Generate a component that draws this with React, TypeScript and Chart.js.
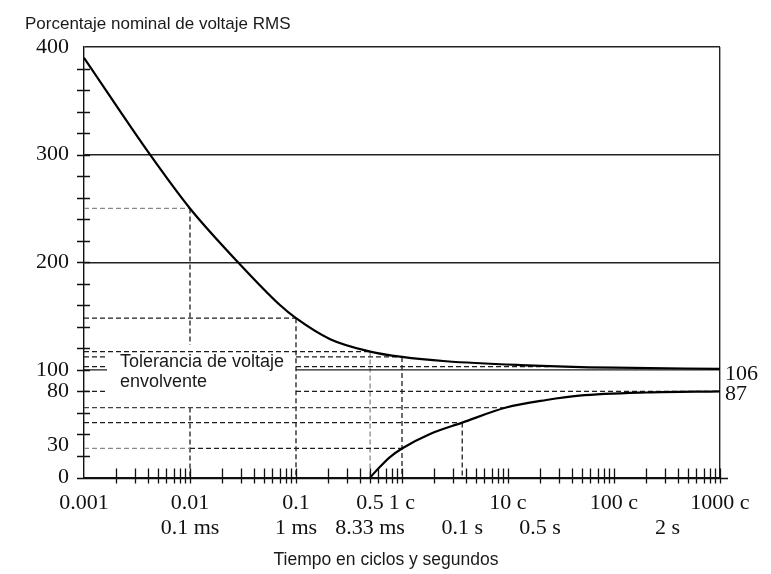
import React, { useEffect, useRef } from 'react';
import { Chart, registerables } from 'chart.js';

Chart.register(...registerables);

// Upper tolerance curve (cycles, % nominal)
const upperX = [0.001, 0.0042, 0.01, 0.0284, 0.071, 0.1, 0.21, 0.5, 1, 2.6, 13, 100, 1000];
const upperY = [390, 300, 250, 200, 160, 148, 128.5, 117, 112, 108, 104.5, 102, 101];

// Lower tolerance curve
const lowerX = [0.5, 0.62, 0.77, 1, 1.84, 3.7, 9.6, 23, 47, 203, 1000];
const lowerY = [0, 10, 19, 27, 40.5, 51, 65, 72, 76, 79, 80];

// Horizontal dashed guides: level, from, to
const hDashY = [250, 148, 117, 112, 112, 103, 103, 80, 80, 65, 51, 27, 27];
const hDashFrom = [0.001, 0.001, 0.001, 0.001, 0.1, 0.001, 0.1, 0.001, 0.1, 0.001, 0.001, 0.001, 0.01];
const hDashTo = [0.01, 0.1, 0.5, 0.00165, 1, 0.00165, 25, 0.00165, 1000, 9.6, 3.7, 0.01, 1];

// Horizontal solid guides (nominal 100 %)
const hSolidY = [100, 100];
const hSolidFrom = [0.001, 0.1];
const hSolidTo = [0.00165, 1000];

// Vertical dashed guides: position, top, bottom
const vDashX = [0.01, 0.01, 0.1, 0.5, 1, 3.7];
const vDashTop = [250, 65, 148, 117, 112, 51];
const vDashBottom = [123, 0, 0, 0, 0, 0];

// Axis labels
const yLabelValues = [0, 30, 80, 100, 200, 300, 400];
const yTickMarks = [20, 40, 60, 80, 100, 120, 140, 160, 180, 200, 220, 240, 260, 280, 300, 320, 340, 360, 380];
const xLabelValues = [0.001, 0.01, 0.1, 0.5, 1, 3.7, 10, 20, 100, 320, 1000];
const xLabelRow1 = ['0.001', '0.01', '0.1', '0.5', '1 c', '', '10 c', '', '100 c', '', '1000 c'];
const xLabelRow2 = ['', '0.1 ms', '1 ms', '8.33 ms', '', '0.1 s', '', '0.5 s', '', '2 s', ''];
const xTickMarks = [
  0.002, 0.003, 0.004, 0.005, 0.006, 0.007, 0.008, 0.009, 0.01,
  0.02, 0.03, 0.04, 0.05, 0.06, 0.07, 0.08, 0.09, 0.1,
  0.2, 0.3, 0.4, 0.5, 0.6, 0.7, 0.8, 0.9, 1,
  2, 3, 4, 5, 6, 7, 8, 9, 10,
  20, 30, 40, 50, 60, 70, 80, 90, 100,
  200, 300, 400, 500, 600, 700, 800, 900, 1000,
];

const yTitle = 'Porcentaje nominal de voltaje RMS';
const xTitle = 'Tiempo en ciclos y segundos';
const boxLines = ['Tolerancia de voltaje', 'envolvente'];
const endLabels = ['106', '87'];

const SERIF = '"Liberation Serif", "Times New Roman", serif';
const SANS = '"Liberation Sans", Arial, sans-serif';

export default function App() {
  const ref = useRef<HTMLCanvasElement | null>(null);

  useEffect(() => {
    if (!ref.current) return;
    const DARK = '#1e1e1e';
    const GRAY = '#8a8a8a';
    const grayH = new Set([0, 11]);
    const grayV = new Set([3]);

    const datasets: any[] = [];
    datasets.push({
      data: upperX.map((x, i) => ({ x, y: upperY[i] })),
      borderColor: '#000', borderWidth: 2.2, pointRadius: 0,
      cubicInterpolationMode: 'monotone', fill: false,
    });
    datasets.push({
      data: lowerX.map((x, i) => ({ x, y: lowerY[i] })),
      borderColor: '#000', borderWidth: 2.2, pointRadius: 0,
      cubicInterpolationMode: 'monotone', fill: false,
    });
    hDashY.forEach((y, i) => {
      datasets.push({
        data: [{ x: hDashFrom[i], y }, { x: hDashTo[i], y }],
        borderColor: grayH.has(i) ? GRAY : (i === 9 ? '#444' : DARK),
        borderWidth: 1.3, borderDash: [5, 3], pointRadius: 0, tension: 0,
      });
    });
    hSolidY.forEach((y, i) => {
      datasets.push({
        data: [{ x: hSolidFrom[i], y }, { x: hSolidTo[i], y }],
        borderColor: DARK, borderWidth: 1.4, pointRadius: 0, tension: 0,
      });
    });
    vDashX.forEach((x, i) => {
      datasets.push({
        data: [{ x, y: vDashTop[i] }, { x, y: vDashBottom[i] }],
        borderColor: grayV.has(i) ? GRAY : DARK,
        borderWidth: 1.3, borderDash: [5, 3], pointRadius: 0, tension: 0,
      });
    });

    const decor = {
      id: 'decor',
      afterDraw(chart: any) {
        const { ctx, chartArea: a, scales } = chart;
        const xs = scales.x;
        const ys = scales.y;
        ctx.save();
        ctx.strokeStyle = '#111';
        ctx.lineWidth = 1.3;
        ctx.beginPath();
        const by = Math.round(a.bottom) + 0.5;
        ctx.moveTo(a.left - 7, by);
        ctx.lineTo(a.right + 8, by);
        for (const v of xTickMarks) {
          const p = Math.round(xs.getPixelForValue(v)) + 0.5;
          ctx.moveTo(p, a.bottom - 9);
          ctx.lineTo(p, a.bottom + 6);
        }
        for (const v of yTickMarks) {
          const p = Math.round(ys.getPixelForValue(v)) + 0.5;
          ctx.moveTo(a.left - 7, p);
          ctx.lineTo(a.left + 6, p);
        }
        ctx.stroke();

        ctx.fillStyle = '#1a1a1a';
        ctx.font = '17px ' + SANS;
        ctx.textBaseline = 'alphabetic';
        ctx.textAlign = 'left';
        ctx.fillText(yTitle, 25, 28.5);
        ctx.font = '17.5px ' + SANS;
        ctx.textAlign = 'center';
        ctx.fillText(xTitle, 386, 565);
        ctx.font = '18px ' + SANS;
        ctx.textAlign = 'left';
        ctx.fillText(boxLines[0], 120, 366.5);
        ctx.fillText(boxLines[1], 120, 386.5);

        ctx.fillStyle = '#111';
        ctx.font = '22px ' + SERIF;
        ctx.textBaseline = 'middle';
        ctx.textAlign = 'left';
        ctx.fillText(endLabels[0], a.right + 5, ys.getPixelForValue(upperY[upperY.length - 1]) + 5);
        ctx.fillText(endLabels[1], a.right + 5, ys.getPixelForValue(lowerY[lowerY.length - 1]) + 2.5);
        ctx.restore();
      },
    };

    const chart = new Chart(ref.current, {
      type: 'line',
      data: { datasets },
      options: {
        animation: false,
        responsive: false,
        devicePixelRatio: 1,
        layout: { padding: { left: 0, right: 51, top: 47, bottom: 0 } },
        plugins: { legend: { display: false }, tooltip: { enabled: false } },
        scales: {
          x: {
            type: 'logarithmic',
            min: 0.001,
            max: 1000,
            afterBuildTicks: (s: any) => { s.ticks = xLabelValues.map((v) => ({ value: v })); },
            afterFit: (s: any) => { s.height = 96.5; },
            ticks: {
              autoSkip: false, maxRotation: 0, minRotation: 0, padding: 13,
              color: '#111', font: { family: SERIF, size: 22, lineHeight: 1.14 },
              callback: (_v: any, i: number) => [xLabelRow1[i], xLabelRow2[i]],
            },
            grid: {
              drawTicks: false, lineWidth: 1.4,
              color: (c: any) => (c.tick && c.tick.value === 1000 ? '#222' : 'rgba(0,0,0,0)'),
            },
            border: { display: true, color: '#111', width: 1.4 },
          },
          y: {
            type: 'linear',
            min: 0,
            max: 400,
            afterBuildTicks: (s: any) => { s.ticks = yLabelValues.map((v) => ({ value: v })); },
            afterFit: (s: any) => { s.width = 84; },
            ticks: {
              padding: 15, color: '#111', font: { family: SERIF, size: 22 },
              callback: (v: any) => String(v),
            },
            grid: {
              drawTicks: false, lineWidth: 1.4,
              color: (c: any) => (c.tick && [200, 300, 400].includes(c.tick.value) ? '#222' : 'rgba(0,0,0,0)'),
            },
            border: { display: true, color: '#111', width: 1.4 },
          },
        },
      } as any,
      plugins: [decor],
    });
    return () => chart.destroy();
  }, []);

  return (
    <div style={{ position: 'fixed', left: 0, top: 0, width: 771, height: 574, background: '#fff' }}>
      <canvas ref={ref} width={771} height={574} style={{ display: 'block' }} />
    </div>
  );
}
